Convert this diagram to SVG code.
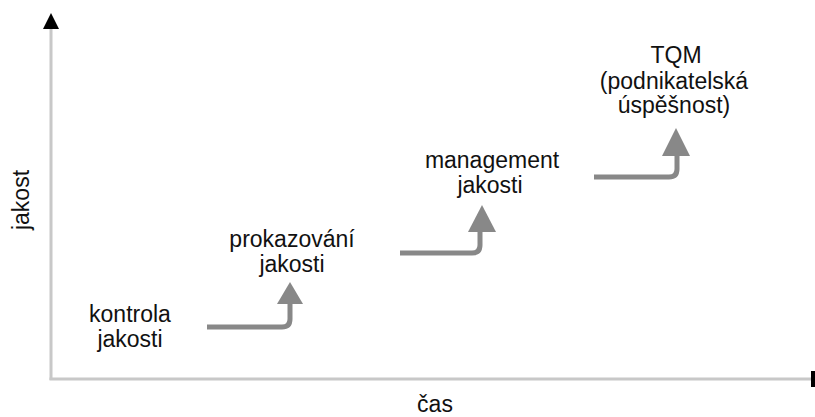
<svg xmlns="http://www.w3.org/2000/svg" width="815" height="417" viewBox="0 0 815 417">
<defs>
<style>
.axis{stroke:#c8c8c8;stroke-width:3;fill:none}
.flow{stroke:#888888;stroke-width:5;fill:none;stroke-linecap:butt}
.head{fill:#888888}
text{font-family:"Liberation Sans",Arial,sans-serif;font-size:23px;fill:#111111;text-anchor:middle}
</style>
</defs>
<g id="axes">
<line class="axis" x1="51" y1="380" x2="51" y2="28"/>
<polygon points="51,13 43,29 59,29" fill="#000"/>
<line class="axis" x1="49.5" y1="379" x2="811" y2="379"/>
<rect x="811" y="371" width="4" height="16" fill="#000"/>
<text transform="translate(29,200) rotate(-90)">jakost</text>
<text x="435" y="412">čas</text>
</g>
<g id="kontrola">
<text x="130" y="322">kontrola</text>
<text x="130" y="347">jakosti</text>
</g>
<g id="prokazovani">
<text x="292" y="247">prokazování</text>
<text x="292" y="272">jakosti</text>
</g>
<g id="management">
<text x="492" y="168">management</text>
<text x="490" y="193">jakosti</text>
</g>
<g id="tqm">
<text x="676" y="63">TQM</text>
<text x="674" y="89">(podnikatelská</text>
<text x="674" y="113">úspěšnost)</text>
</g>
<g id="connectors">
<path class="flow" d="M207,327 H282 Q290,327 290,319 V302"/>
<polygon class="head" points="290,282 277,304 303,304"/>
<path class="flow" d="M400,253 H472 Q480,253 480,245 V230"/>
<polygon class="head" points="482,205 468,232 496,232"/>
<path class="flow" d="M594,177 H669 Q677,177 677,169 V154"/>
<polygon class="head" points="676,128 662,156 690,156"/>
</g>
</svg>
